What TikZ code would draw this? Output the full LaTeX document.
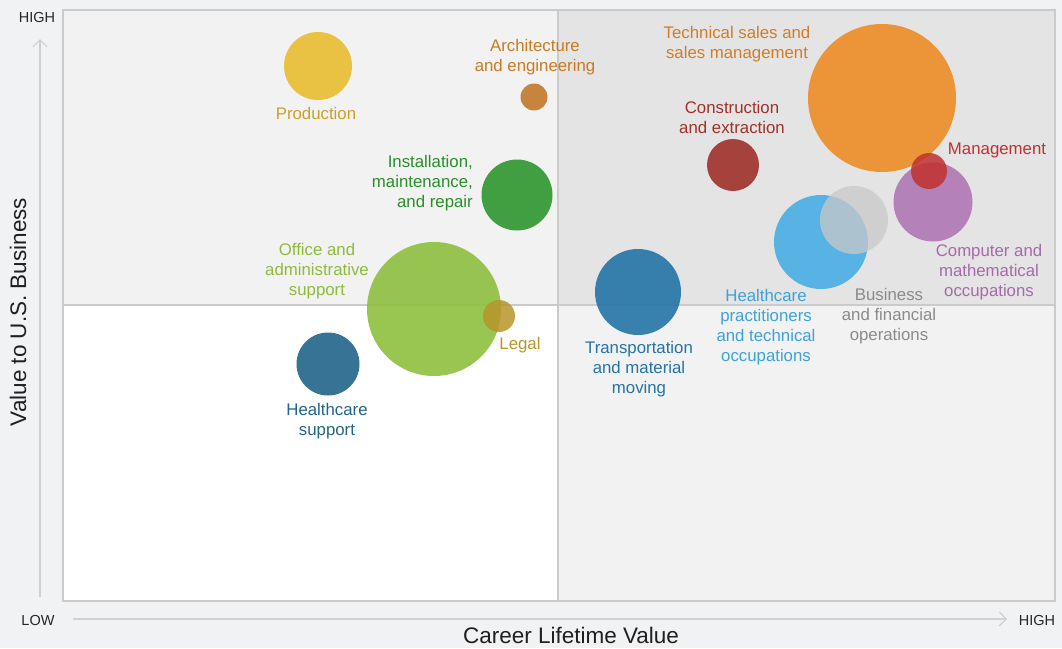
\documentclass[tikz,border=0pt]{standalone}
\usepackage{fontspec}
\setmainfont{Liberation Sans}
\usetikzlibrary{arrows.meta}
\definecolor{bg}{HTML}{F1F2F3}
\definecolor{qa}{HTML}{F2F2F2}
\definecolor{qb}{HTML}{E4E4E4}
\definecolor{frame}{HTML}{CBCBCB}
\definecolor{cProd}{HTML}{EABD30}
\definecolor{tProd}{HTML}{C9A12A}
\definecolor{cArch}{HTML}{C27A2C}
\definecolor{tArch}{HTML}{C97A22}
\definecolor{cInst}{HTML}{2E962F}
\definecolor{tInst}{HTML}{2A8F2A}
\definecolor{cOff}{HTML}{8EC03F}
\definecolor{tOff}{HTML}{8DBC3C}
\definecolor{cLeg}{HTML}{B8952A}
\definecolor{cHS}{HTML}{226489}
\definecolor{cTr}{HTML}{2474A7}
\definecolor{cCon}{HTML}{A0312A}
\definecolor{cTech}{HTML}{EC8C26}
\definecolor{tTech}{HTML}{D07D26}
\definecolor{cMan}{HTML}{C0302E}
\definecolor{cComp}{HTML}{AF78B4}
\definecolor{tComp}{HTML}{A56AAA}
\definecolor{cHP}{HTML}{48AEE4}
\definecolor{tHP}{HTML}{3DA2DA}
\definecolor{cBus}{HTML}{C9C9C9}
\definecolor{tBus}{HTML}{8A8A8A}
\begin{document}
\begin{tikzpicture}[x=1pt,y=-1pt,
  bub/.style={circle,inner sep=0pt,fill opacity=0.9,draw=none},
  lab/.style={font=\fontsize{16.8}{20}\selectfont,align=center,inner sep=0pt},
  axl/.style={font=\fontsize{14.5}{16}\selectfont,inner sep=0pt,text=black!85},
  axarrow/.style={draw=frame!90,line width=1.2pt,-{Straight Barb[length=7pt,width=14pt]}}]
\useasboundingbox (0,0) rectangle (1062,648);
\fill[bg] (0,0) rectangle (1062,648);
% quadrants
\fill[qa] (63,10) rectangle (558,305);
\fill[qb] (558,10) rectangle (1055,305);
\fill[white] (63,305) rectangle (558,601);
\fill[qa] (558,305) rectangle (1055,601);
\draw[frame,line width=2.5pt] (558,10) -- (558,601);
\draw[frame,line width=2.5pt] (63,305) -- (1055,305);
\draw[frame,line width=2pt] (63,10) rectangle (1055,601);
% axes
\coordinate (ybot) at (40,597);
\coordinate (ytop) at (40,39);
\coordinate (xl) at (73,619);
\coordinate (xr) at (1007,619);
\draw[axarrow] (ybot) -- (ytop);
\draw[axarrow] (xl) -- (xr);
\node[axl] (yhigh) at (37,18) {HIGH};
\node[axl] (ylow) at (38,620) {LOW};
\node[axl] (xhigh) at (1037,620) {HIGH};
\node[font=\fontsize{22.5}{24}\selectfont,rotate=90,inner sep=0pt,text=black!88] (ylab) at (18,312) {Value to U.S. Business};
\node[font=\fontsize{22.5}{24}\selectfont,inner sep=0pt,text=black!88] (xlab) at (571,635) {Career Lifetime Value};
% bubbles
\node[bub,fill=cOff,minimum size=134pt] (off) at (434,309) {};
\node[bub,fill=cProd,minimum size=68pt] (prod) at (318,66) {};
\node[bub,fill=cArch,minimum size=27pt] (arch) at (534,97) {};
\node[bub,fill=cInst,minimum size=71pt] (inst) at (517,195) {};
\node[bub,fill=cLeg,fill opacity=0.85,minimum size=32pt] (legal) at (499,316) {};
\node[bub,fill=cHS,minimum size=63pt] (hs) at (328,364) {};
\node[bub,fill=cTr,minimum size=86pt] (tr) at (638,292) {};
\node[bub,fill=cCon,minimum size=52pt] (con) at (733,165) {};
\node[bub,fill=cTech,minimum size=148pt] (tech) at (882,98) {};
\node[bub,fill=cComp,minimum size=79pt] (comp) at (933,202) {};
\node[bub,fill=cMan,fill opacity=0.85,minimum size=36pt] (man) at (929,171) {};
\node[bub,fill=cHP,minimum size=94pt] (hp) at (821,242) {};
\node[bub,fill=cBus,fill opacity=0.75,minimum size=68pt] (bus) at (854,220) {};
% labels
\node[lab,text=tProd] (lprod) at (316,113) {Production};
\node[lab,text=tArch] (larch) at (535,57) {Architecture\\and engineering};
\node[lab,text=tInst,align=right,anchor=east] (linst) at (473,183) {Installation,\\maintenance,\\and repair};
\node[lab,text=tOff] (loff) at (317,271) {Office and\\administrative\\support};
\node[lab,text=cLeg] (llegal) at (520,345) {Legal};
\node[lab,text=cHS] (lhs) at (327,421) {Healthcare\\support};
\node[lab,text=cTr] (ltr) at (639,369) {Transportation\\and material\\moving};
\node[lab,text=cCon] (lcon) at (732,117) {Construction\\and extraction};
\node[lab,text=tTech] (ltech) at (737,44) {Technical sales and\\sales management};
\node[lab,text=cMan] (lman) at (997,150) {Management};
\node[lab,text=tComp] (lcomp) at (989,272) {Computer and\\mathematical\\occupations};
\node[lab,text=tHP] (lhp) at (766,327) {Healthcare\\practitioners\\and technical\\occupations};
\node[lab,text=tBus] (lbus) at (889,316) {Business\\and financial\\operations};
\end{tikzpicture}
\end{document}
